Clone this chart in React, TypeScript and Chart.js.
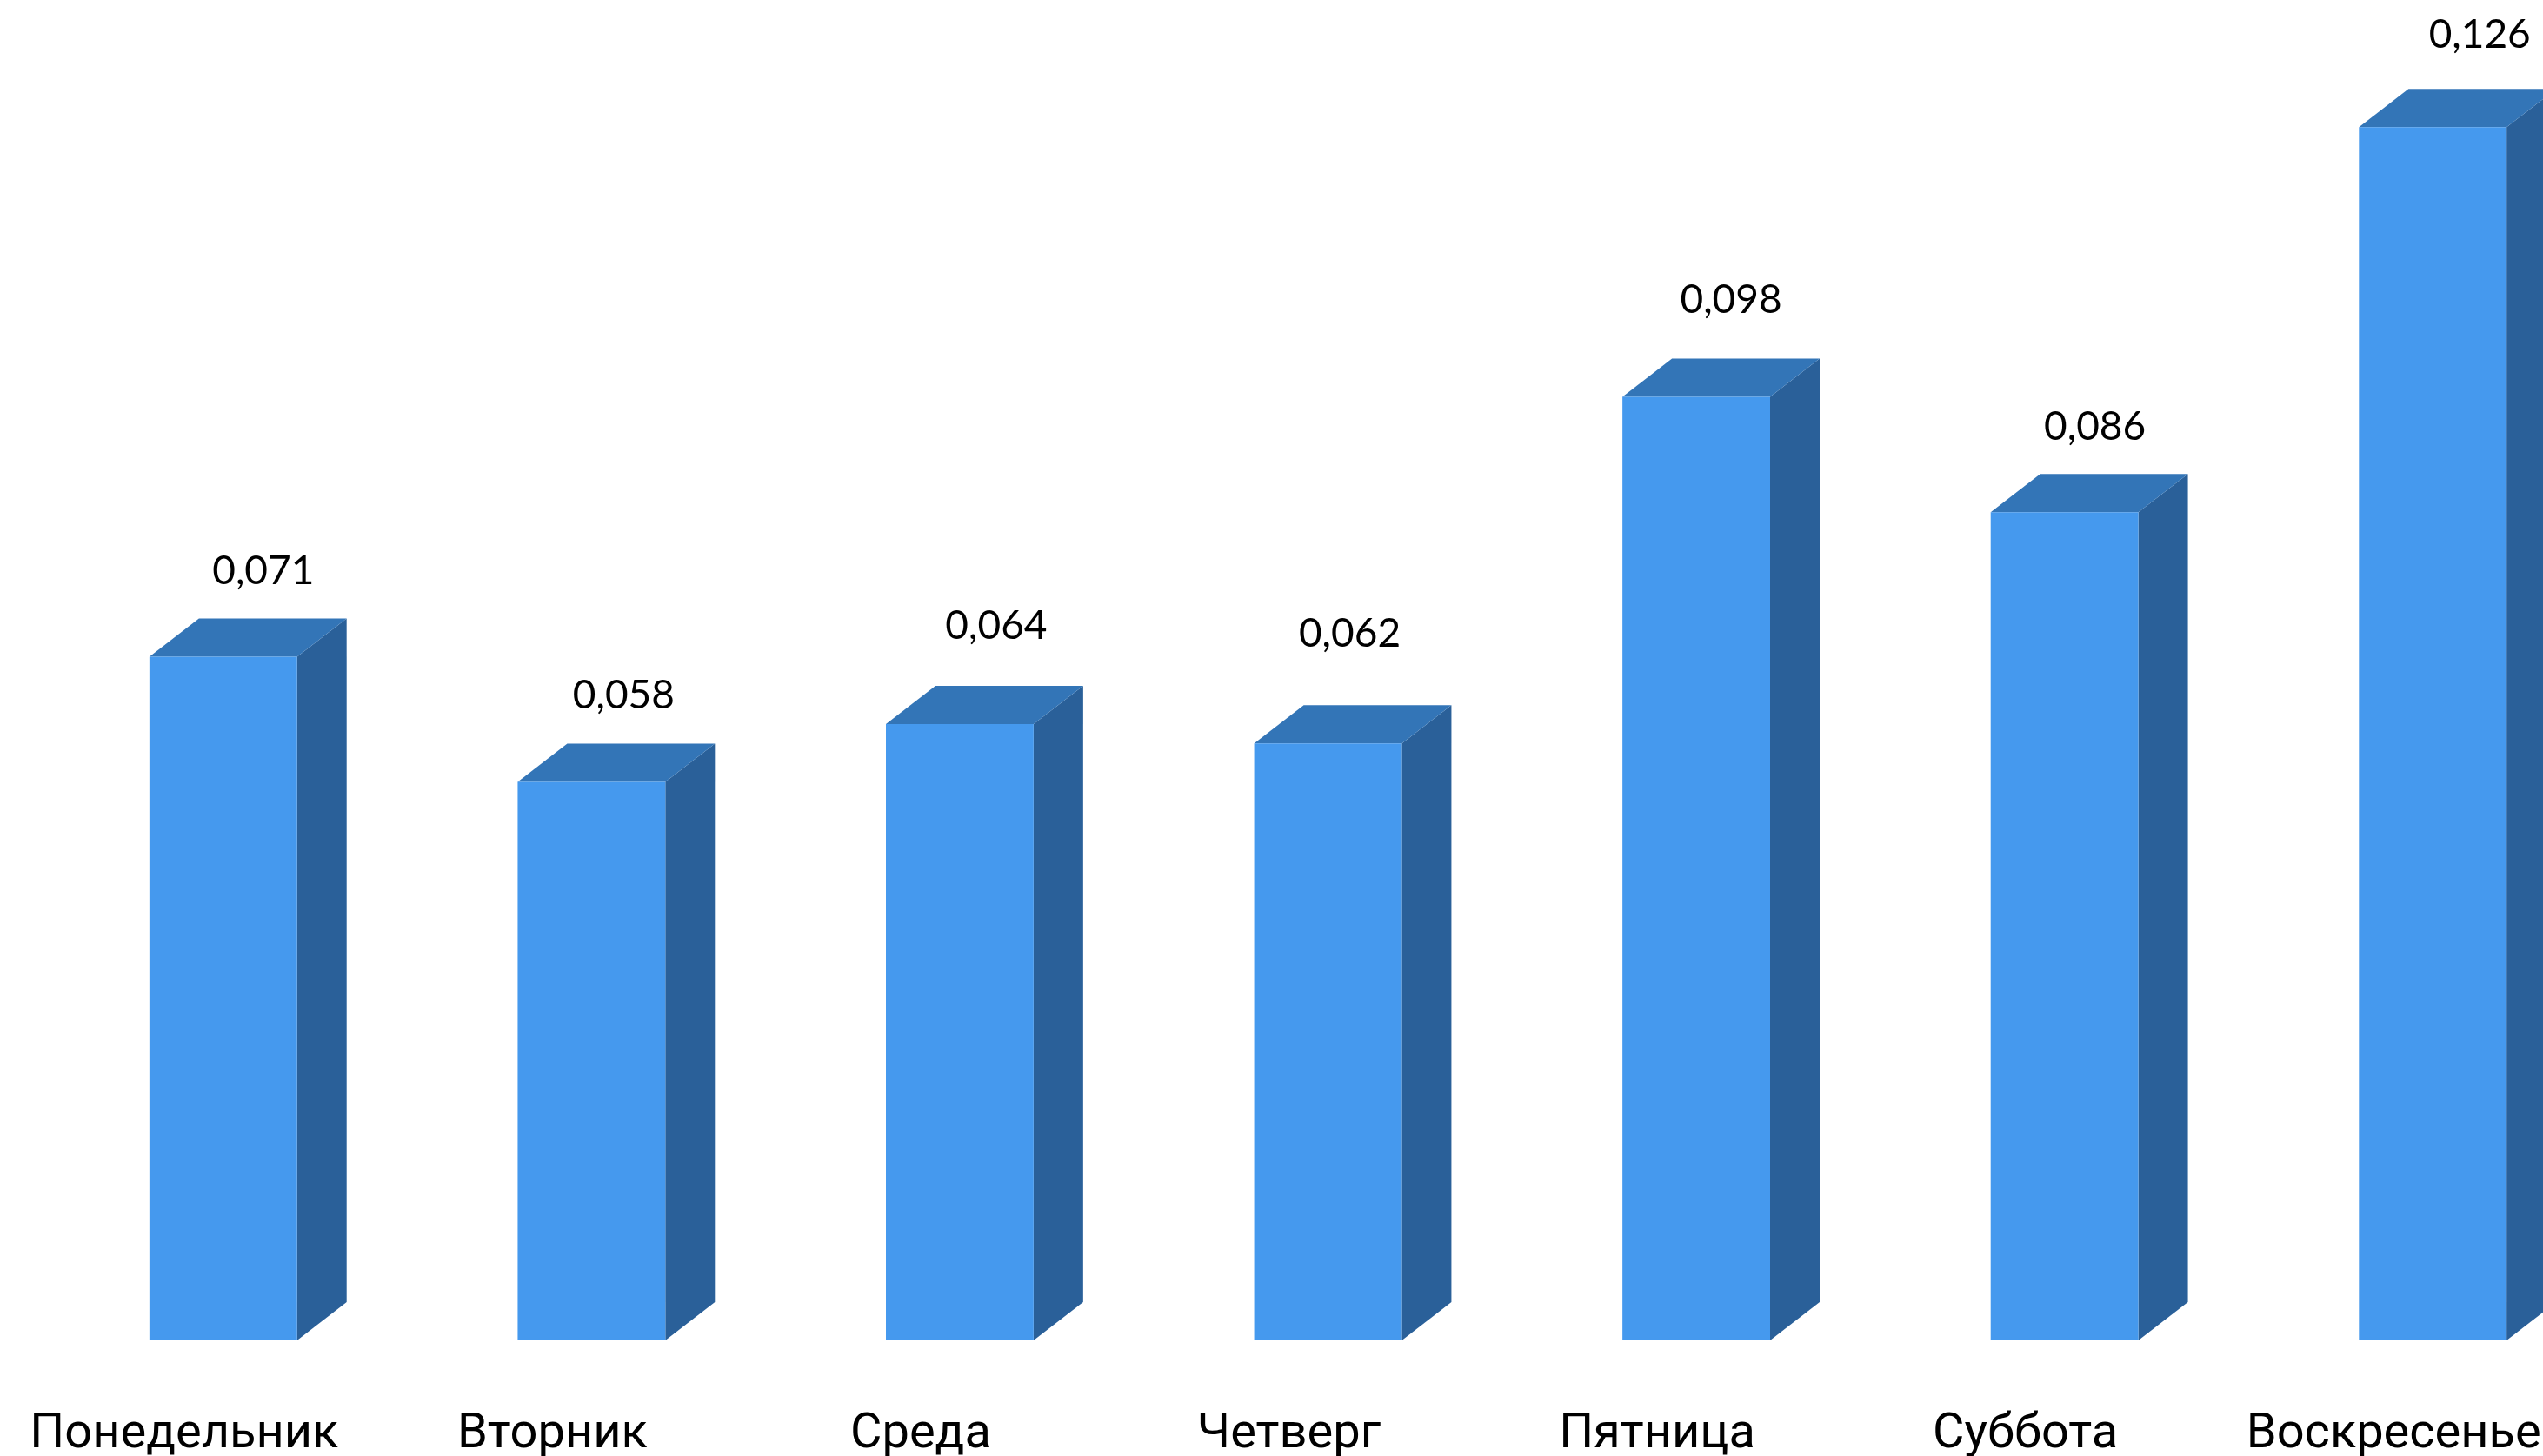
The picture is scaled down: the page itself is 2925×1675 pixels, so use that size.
import React, { useEffect, useRef } from "react";
import { Chart, registerables } from "chart.js";

Chart.register(...registerables);

const days = ["Понедельник", "Вторник", "Среда", "Четверг", "Пятница", "Суббота", "Воскресенье"];
const values = [0.071, 0.058, 0.064, 0.062, 0.098, 0.086, 0.126];
const valueLabels = ["0,071", "0,058", "0,064", "0,062", "0,098", "0,086", "0,126"];

// Hand-placed value labels of the reference, relative to the bar's front face (px).
const labelNudgeX = [46, 37, 42, 25, 40, 35, 54];
const labelNudgeY = [98, 99, 113, 126, 111, 98, 106];

const DEPTH_X = 57;
const DEPTH_Y = 44;
const FRONT = "#4599EE";
const TOP = "#3375B7";
const SIDE = "#2A6099";

const box3d = {
  id: "box3d",
  beforeDatasetsDraw(chart: any) {
    const { ctx } = chart;
    chart.getDatasetMeta(0).data.forEach((bar: any) => {
      const half = bar.width / 2;
      const l = bar.x - half;
      const r = bar.x + half;
      const t = bar.y;
      const b = bar.base;
      ctx.save();
      ctx.fillStyle = SIDE;
      ctx.beginPath();
      ctx.moveTo(r, t);
      ctx.lineTo(r + DEPTH_X, t - DEPTH_Y);
      ctx.lineTo(r + DEPTH_X, b - DEPTH_Y);
      ctx.lineTo(r, b);
      ctx.closePath();
      ctx.fill();
      ctx.fillStyle = TOP;
      ctx.beginPath();
      ctx.moveTo(l, t);
      ctx.lineTo(l + DEPTH_X, t - DEPTH_Y);
      ctx.lineTo(r + DEPTH_X, t - DEPTH_Y);
      ctx.lineTo(r, t);
      ctx.closePath();
      ctx.fill();
      ctx.restore();
    });
  },
};

const valueLabelPlugin = {
  id: "valueLabelPlugin",
  afterDatasetsDraw(chart: any) {
    const { ctx } = chart;
    ctx.save();
    ctx.font = "46px Lato";
    ctx.fillStyle = "#000000";
    ctx.textAlign = "center";
    ctx.textBaseline = "middle";
    chart.getDatasetMeta(0).data.forEach((bar: any, i: number) => {
      ctx.fillText(valueLabels[i], bar.x + labelNudgeX[i], bar.y - labelNudgeY[i]);
    });
    ctx.restore();
  },
};

export default function App() {
  const ref = useRef<HTMLCanvasElement | null>(null);

  useEffect(() => {
    document.body.style.margin = "0";
    document.body.style.background = "#ffffff";
    const chart = new Chart(ref.current as HTMLCanvasElement, {
      type: "bar",
      data: {
        labels: days,
        datasets: [
          {
            data: values,
            backgroundColor: FRONT,
            borderWidth: 0,
            barPercentage: 0.401,
            categoryPercentage: 1,
          },
        ],
      },
      options: {
        animation: false,
        responsive: false,
        devicePixelRatio: 1,
        events: [],
        layout: { padding: { left: 45, right: 0, top: 0, bottom: 0 } },
        plugins: {
          legend: { display: false },
          tooltip: { enabled: false },
          title: { display: false },
        },
        scales: {
          x: {
            offset: true,
            grid: { display: false },
            border: { display: false },
            afterFit(axis: any) {
              axis.height = 133;
              axis.paddingLeft = 0;
              axis.paddingRight = 0;
            },
            ticks: {
              autoSkip: false,
              maxRotation: 0,
              minRotation: 0,
              labelOffset: -45,
              padding: 67,
              color: "#000000",
              font: { family: "Roboto", size: 56 },
            },
          },
          y: {
            display: false,
            min: 0,
            max: 0.1392,
          },
        },
      },
      plugins: [box3d, valueLabelPlugin],
    } as any);
    return () => chart.destroy();
  }, []);

  return (
    <div style={{ position: "absolute", left: 0, top: 0, width: 2925, height: 1675, overflow: "hidden", background: "#ffffff" }}>
      <canvas ref={ref} width={3010} height={1675} style={{ display: "block" }} />
    </div>
  );
}
